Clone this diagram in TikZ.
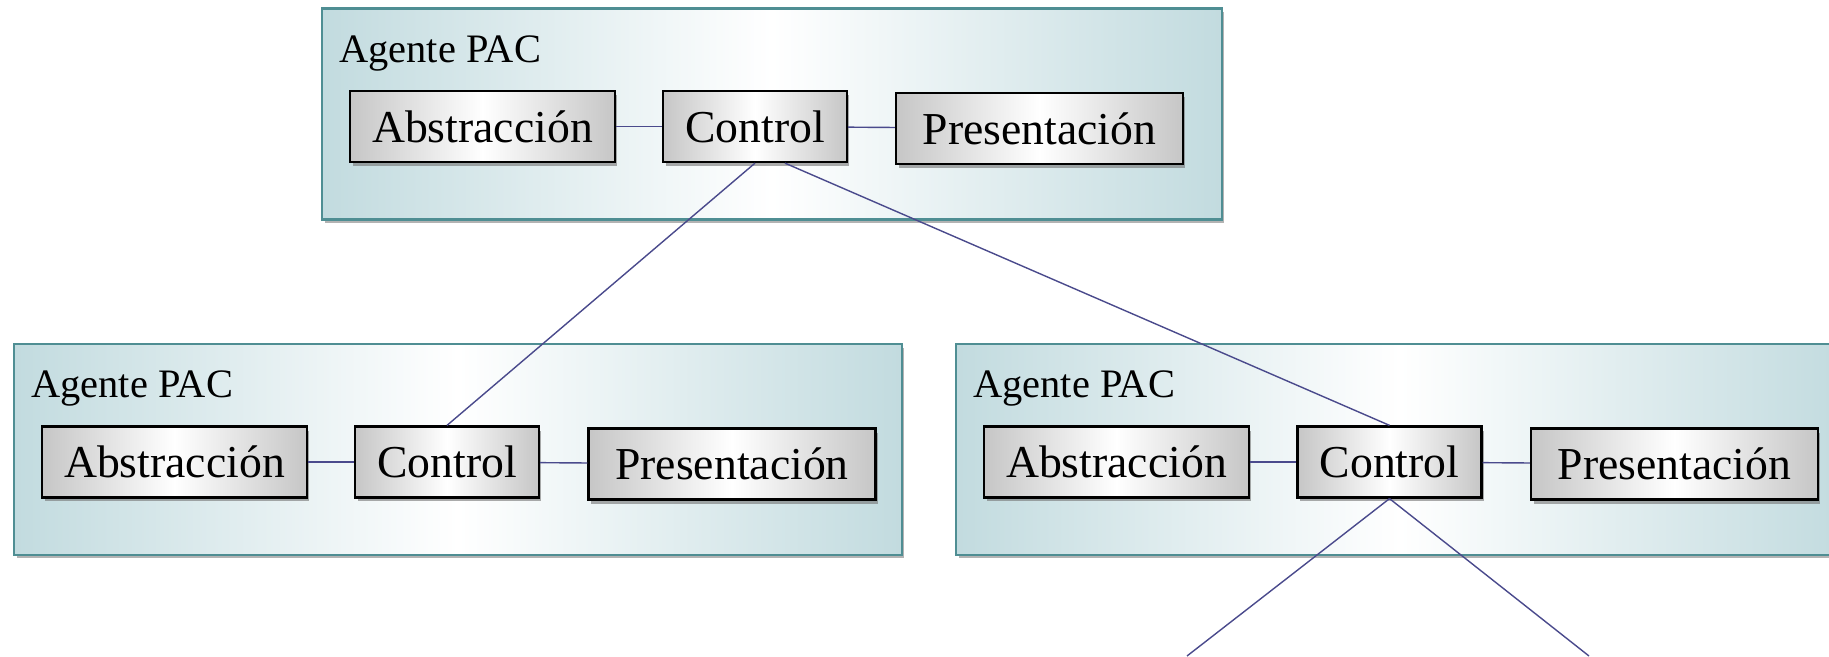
\documentclass[tikz,border=0pt]{standalone}
\usepackage{fontspec}
\setmainfont{Liberation Serif}
\usepackage{tikz}
\usetikzlibrary{calc,shapes,shadows,positioning}
\definecolor{agentedge}{HTML}{4F8E93}
\definecolor{agentfill}{HTML}{C2DBDF}
\definecolor{boxgray}{HTML}{C6C6C6}
\definecolor{linkblue}{HTML}{4A4A8C}
\newcommand{\boxheight}{1.42cm}
\newcommand{\agentfont}{\fontsize{23}{27}\selectfont}
\newcommand{\partfont}{\fontsize{26}{30}\selectfont}
\tikzstyle{agent}=[draw=agentedge, line width=1.3pt, left color=agentfill, right color=agentfill, middle color=white, minimum height=4.22cm, inner sep=0, drop shadow={shadow xshift=.05cm, shadow yshift=-.07cm, fill=black!50, opacity=.6}]
\tikzstyle{part}=[draw=black, line width=1.3pt, left color=boxgray, right color=boxgray, middle color=white, minimum height=\boxheight, inner sep=0, font=\partfont, drop shadow={shadow xshift=.05cm, shadow yshift=-.08cm, fill=black!55, opacity=.6}]
\tikzstyle{title}=[anchor=base west, inner sep=0, font=\agentfont]
\tikzstyle{link}=[-, draw=linkblue, line width=0.8pt]

\begin{document}
\begin{tikzpicture}[x=0.02cm, y=-0.02cm]
  \useasboundingbox (0,0) rectangle (1829,656);

  % agents
  \node[agent, minimum width=18cm] (A1) at (772, 114) {};
  \node[agent, minimum width=17.76cm] (A2) at (458, 449.5) {};
  \node[agent, minimum width=17.76cm] (A3) at (1400, 449.5) {};

  \node[title] (T1) at ($(A1.north west)+(18,55)$) {Agente PAC};
  \node[title] (T2) at ($(A2.north west)+(18,55)$) {Agente PAC};
  \node[title] (T3) at ($(A3.north west)+(18,55)$) {Agente PAC};

  % top
  \node[part, minimum width=5.3cm] (Abs1) at (482.5, 126.5) {Abstracción};
  \node[part, minimum width=3.68cm] (Ctl1) at (755, 126.5) {Control};
  \node[part, minimum width=5.74cm] (Pre1) at (1039.5, 128.5) {Presentación};

  % left
  \node[part, minimum width=5.3cm] (Abs2) at (174.5, 462) {Abstracción};
  \node[part, minimum width=3.68cm] (Ctl2) at (447, 462) {Control};
  \node[part, minimum width=5.74cm] (Pre2) at (732, 464) {Presentación};

  % right
  \node[part, minimum width=5.3cm] (Abs3) at (1116.5, 462) {Abstracción};
  \node[part, minimum width=3.68cm] (Ctl3) at (1389.5, 462) {Control};
  \node[part, minimum width=5.74cm] (Pre3) at (1674.5, 464) {Presentación};

  \coordinate (C1) at (1187, 656);
  \coordinate (C2) at (1589, 656);

  \draw[link] (Abs1) to (Ctl1);
  \draw[link] (Ctl1) to (Pre1);
  \draw[link] (Abs2) to (Ctl2);
  \draw[link] (Ctl2) to (Pre2);
  \draw[link] (Abs3) to (Ctl3);
  \draw[link] (Ctl3) to (Pre3);

  \draw[link] (Ctl1.south) to (Ctl2.north);
  \draw[link] ($(Ctl1.south)+(30,0)$) to (Ctl3.north);
  \draw[link] (Ctl3.south) to (C1);
  \draw[link] (Ctl3.south) to (C2);

\end{tikzpicture}
\end{document}
